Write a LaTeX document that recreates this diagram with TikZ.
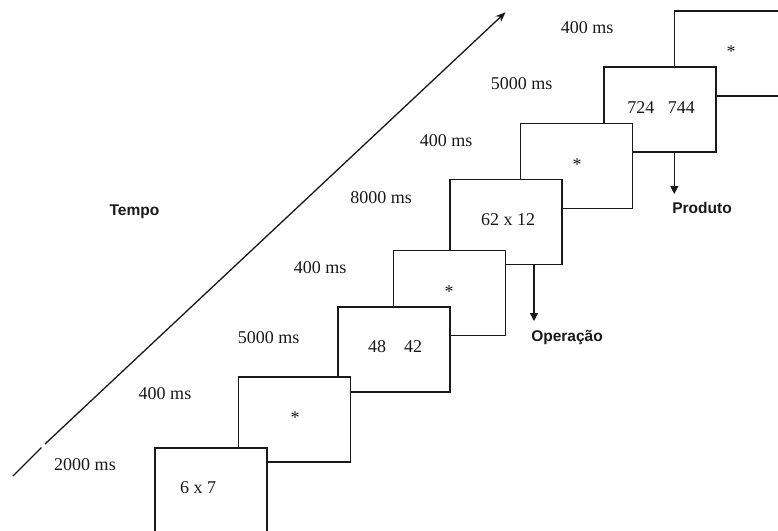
\documentclass[tikz,border=0pt]{standalone}
\usepackage{fontspec}
\setmainfont{Liberation Serif}
\newfontfamily\lblfont{Liberation Sans}
\usetikzlibrary{arrows.meta}
\tikzset{
  screen/.style={draw=black!90, line width=1.6pt, fill=white, minimum width=112pt, minimum height=85pt, inner sep=0pt},
  dur/.style={anchor=base, inner sep=0pt, font=\fontsize{18}{20}\selectfont, text=black!90},
  stim/.style={anchor=base, inner sep=0pt, font=\fontsize{18}{20}\selectfont, text=black!90},
  tag/.style={anchor=base, inner sep=0pt, font=\lblfont\bfseries\fontsize{15.5}{18}\selectfont, text=black!90},
  timeline/.style={line width=1.3pt, draw=black!90},
  down/.style={line width=1.3pt, draw=black!90, -{Triangle[length=8pt,width=8pt]}}
}
\begin{document}
\begin{tikzpicture}[x=1pt,y=-1pt]
\useasboundingbox (0,0) rectangle (778,530);
\clip (0,0) rectangle (778,530);
% time arrow
\coordinate (t0) at (13,476);
\coordinate (t1) at (41.5,447.5);
\coordinate (t2) at (45,444);
\coordinate (t3) at (505.5,12.3);
\draw[timeline] (t0) -- (t1);
\draw[timeline, -{Stealth[length=10pt,width=8pt]}] (t2) -- (t3);
\node[tag] (tempo) at (134.5,215) {Tempo};
% screens, drawn back to front
\node[screen] (b8) at (730.3,53.2) {};
\node[screen] (b7) at (660,109.2) {};
\node[screen] (b6) at (576.3,165.8) {};
\node[screen] (b5) at (506,221.8) {};
\node[screen] (b4) at (449.3,292.8) {};
\node[screen] (b3) at (393.7,349.2) {};
\node[screen] (b2) at (294.3,419.5) {};
\node[screen] (b1) at (211,490.5) {};
% stimuli
\node[stim] (s1) at (198,493) {6 x 7};
\node[stim] (s2) at (295,423) {*};
\node[stim] (s3) at (395,352) {48\hspace{1em}42};
\node[stim] (s4) at (449,297) {*};
\node[stim] (s5) at (508,225) {62 x 12};
\node[stim] (s6) at (577,170) {*};
\node[stim] (s7) at (661,113) {724\hspace{0.75em}744};
\node[stim] (s8) at (731,57) {*};
% durations
\node[dur] (d1) at (85,470) {2000 ms};
\node[dur] (d2) at (165,399.5) {400 ms};
\node[dur] (d3) at (268.5,343) {5000 ms};
\node[dur] (d4) at (320,273) {400 ms};
\node[dur] (d5) at (381,203) {8000 ms};
\node[dur] (d6) at (446,146) {400 ms};
\node[dur] (d7) at (521.5,89.3) {5000 ms};
\node[dur] (d8) at (587,33) {400 ms};
% response labels
\node[tag] (op) at (567,341.7) {Operação};
\node[tag] (pr) at (702,213.3) {Produto};
\coordinate (opa) at (534,264.3);
\coordinate (opb) at (534,321);
\coordinate (pra) at (674.3,152);
\coordinate (prb) at (674.3,194);
\draw[down] (opa) -- (opb);
\draw[down] (pra) -- (prb);
\end{tikzpicture}
\end{document}
